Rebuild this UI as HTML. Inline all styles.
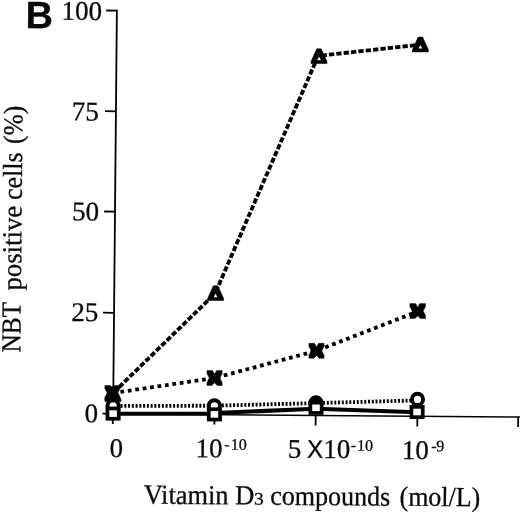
<!DOCTYPE html>
<html>
<head>
<meta charset="utf-8">
<style>
html,body{margin:0;padding:0;background:#fff;}
body{width:520px;height:512px;overflow:hidden;}
svg{display:block;will-change:transform;}
text{font-family:"Liberation Serif",serif;fill:#0a0a0a;stroke:#0a0a0a;stroke-width:0.3px;}
.sans{font-family:"Liberation Sans",sans-serif;}
</style>
</head>
<body>
<svg width="520" height="512" viewBox="0 0 520 512">
<rect width="520" height="512" fill="#fff"/>

<!-- axes -->
<g stroke="#000" stroke-width="1.8" fill="none" stroke-linecap="butt">
  <line x1="116.9" y1="9.8" x2="113.1" y2="414"/>
  <line x1="113.1" y1="413.8" x2="520" y2="417" stroke-width="1.5"/>
  <!-- y ticks -->
  <line x1="106.2" y1="10.5" x2="117" y2="10.6"/>
  <line x1="105" y1="111.2" x2="116.2" y2="111.3"/>
  <line x1="104.2" y1="211.5" x2="115" y2="211.6"/>
  <line x1="103" y1="312.7" x2="114" y2="312.8"/>
  <line x1="102.5" y1="413.6" x2="113" y2="413.7"/>
  <!-- x ticks -->
  <line x1="112.9" y1="413.6" x2="112.8" y2="424"/>
  <line x1="214.5" y1="414.5" x2="214.4" y2="424.5"/>
  <line x1="315.7" y1="415.4" x2="315.6" y2="425.6"/>
  <line x1="417.4" y1="416.2" x2="417.3" y2="426.4"/>
  <line x1="518.2" y1="417" x2="518.1" y2="427"/>
</g>

<!-- series lines -->
<g fill="none" stroke="#000" stroke-linejoin="miter">
  <!-- circle series (fine dotted) -->
  <polyline points="113.1,406 214.4,405.7 316,403.1 417.5,400.4" stroke-width="3.8" stroke-dasharray="2 1.75"/>
  <!-- square series (solid) -->
  <polyline points="113.1,413.7 214.4,413.7" stroke-width="3.9"/>
  <polyline points="214.4,413 316,408.8 417.2,412.3" stroke-width="4.1"/>
  <!-- X series (dotted) -->
  <g stroke-width="3.8" stroke-dasharray="3.75 3.75">
    <line x1="113" y1="393" x2="214.55" y2="378"/>
    <line x1="214.55" y1="378" x2="316.5" y2="350.8" stroke-dashoffset="5.44"/>
    <line x1="316.5" y1="350.8" x2="417.8" y2="311.4" stroke-dashoffset="5.72"/>
  </g>
  <!-- triangle series (dashed) -->
  <g stroke-width="3.8" stroke-dasharray="5.3 2.1">
    <line x1="113.1" y1="393" x2="215.6" y2="293" stroke-dashoffset="6.3"/>
    <line x1="215.3" y1="293" x2="319" y2="54" stroke-dashoffset="6.0"/>
    <line x1="319" y1="55.8" x2="420.4" y2="44.6" stroke-dashoffset="4.8"/>
  </g>
</g>

<!-- markers -->
<defs>
  <g id="circ"><circle r="5.6" fill="#fff" stroke="#000" stroke-width="3.9"/></g>
  <g id="sq"><rect x="-5.65" y="-5.15" width="11.3" height="10.3" fill="#fff" stroke="#000" stroke-width="3.7"/></g>
  <g id="tri"><path d="M-2.2,-7.7 L2.2,-7.7 L8,5 L8,7.1 L-8,7.1 L-8,5 Z" fill="#000" stroke="#000" stroke-width="0.5" stroke-linejoin="round"/><path d="M0,0.1 L1.85,3.8 L-1.85,3.8 Z" fill="#fff"/></g>
  <g id="xm"><path d="M-7.6,-7.5 L-2.0,-7.5 L0,-3.9 L2.0,-7.5 L7.6,-7.5 L7.6,-4.4 L5.3,0 L7.6,4.4 L7.6,7.5 L2.6,7.5 L0,4.8 L-2.6,7.5 L-7.6,7.5 L-7.6,4.4 L-5.3,0 L-7.6,-4.4 Z" fill="#000" stroke="#000" stroke-width="0.4" stroke-linejoin="round"/></g>
</defs>

<!-- circles (bottom-most) -->
<use href="#circ" x="113.1" y="405.8"/>
<use href="#circ" x="214.4" y="405.8"/>
<circle cx="316" cy="402.8" r="5.6" fill="#000" stroke="#000" stroke-width="3.9"/>
<use href="#circ" x="417.5" y="399.4"/>
<!-- squares -->
<use href="#sq" x="113.1" y="413.6"/>
<use href="#sq" x="214.4" y="414.4"/>
<use href="#sq" x="316" y="407.8"/>
<use href="#sq" x="417.1" y="412"/>
<!-- triangles -->
<path transform="translate(113 394.5)" d="M-2.2,-7.7 L2.2,-7.7 L8,5 L8,7.1 L-8,7.1 L-8,5 Z" fill="#000" stroke="#000" stroke-width="0.5" stroke-linejoin="round"/>
<use href="#tri" x="215.6" y="293.4"/>
<use href="#tri" x="319" y="56.5"/>
<use href="#tri" x="420.4" y="44.8"/>
<!-- X markers -->
<use href="#xm" x="112.4" y="393"/>
<use href="#xm" x="214.55" y="378"/>
<use href="#xm" x="316.5" y="350.8"/>
<use href="#xm" transform="translate(417.7 311.1) scale(1.03 1.0)"/>

<!-- panel label -->
<text class="sans" x="25.5" y="28" font-size="38" font-weight="bold" transform="rotate(0.5 25.5 28)">B</text>

<!-- y tick labels -->
<g font-size="27" text-anchor="end">
  <text x="102" y="20" transform="rotate(0.5 102 20)">100</text>
  <text x="98.8" y="120.6" transform="rotate(0.5 98.8 120.6)">75</text>
  <text x="99" y="220.5" transform="rotate(0.5 99 220.5)">50</text>
  <text x="98.2" y="321.2" transform="rotate(0.5 98.2 321.2)">25</text>
  <text x="98" y="422.3" transform="rotate(0.5 98 422.3)">0</text>
</g>

<!-- x tick labels -->
<g font-size="27">
  <text x="109.5" y="457" transform="rotate(0.5 109.5 457)">0</text>
  <text x="195.6" y="457.2" transform="rotate(0.5 195.6 457.2)">10</text>
  <text x="224.2" y="449.6" font-size="16" transform="rotate(0.5 224.2 449.6)">-</text>
  <text x="230.7" y="449.8" font-size="16" transform="rotate(0.5 230.7 449.8)">10</text>
  <text x="287.8" y="457.8" transform="rotate(0.5 287.8 457.8)">5</text>
  <text class="sans" font-size="25.4" transform="translate(307.1 457.7) rotate(0.5) scale(0.95 1)">X</text>
  <text x="323.3" y="458" transform="rotate(0.5 323.3 458)">10</text>
  <text x="350.8" y="450.3" font-size="16" transform="rotate(0.5 350.8 450.3)">-</text>
  <text x="357" y="450.8" font-size="16" transform="rotate(0.5 357 450.8)">10</text>
  <text x="401.8" y="459" transform="rotate(0.5 401.8 459)">10</text>
  <text x="431.3" y="451.2" font-size="16" transform="rotate(0.5 431.3 451.2)">-</text>
  <text x="436.2" y="451.3" font-size="16" transform="rotate(0.5 436.2 451.3)">9</text>
</g>

<!-- x axis title -->
<g font-size="27.5">
  <text transform="translate(143.7 503.6) rotate(0.5) scale(0.957 1)">Vitamin</text>
  <text transform="translate(235 504.3) rotate(0.5) scale(0.975 1)">D</text>
  <text transform="translate(253.9 504.6) rotate(0.5) scale(1.1 1)" font-size="17.5">3</text>
  <text transform="translate(270.3 504.7) rotate(0.5) scale(0.946 1)">compounds</text>
  <text transform="translate(399.5 505.6) rotate(0.5) scale(0.943 1)">(mol/L)</text>
</g>

<!-- y axis title -->
<g font-size="27.5">
  <text transform="translate(20.3 352.4) rotate(-89.5) scale(0.917 1)">NBT</text>
  <text transform="translate(20.9 290.5) rotate(-89.5) scale(0.972 1)">positive</text>
  <text transform="translate(21.7 199.9) rotate(-89.5) scale(0.94 1)">cells</text>
  <text transform="translate(22.2 143.9) rotate(-89.5) scale(0.923 1)">(%)</text>
</g>
</svg>
</body>
</html>
